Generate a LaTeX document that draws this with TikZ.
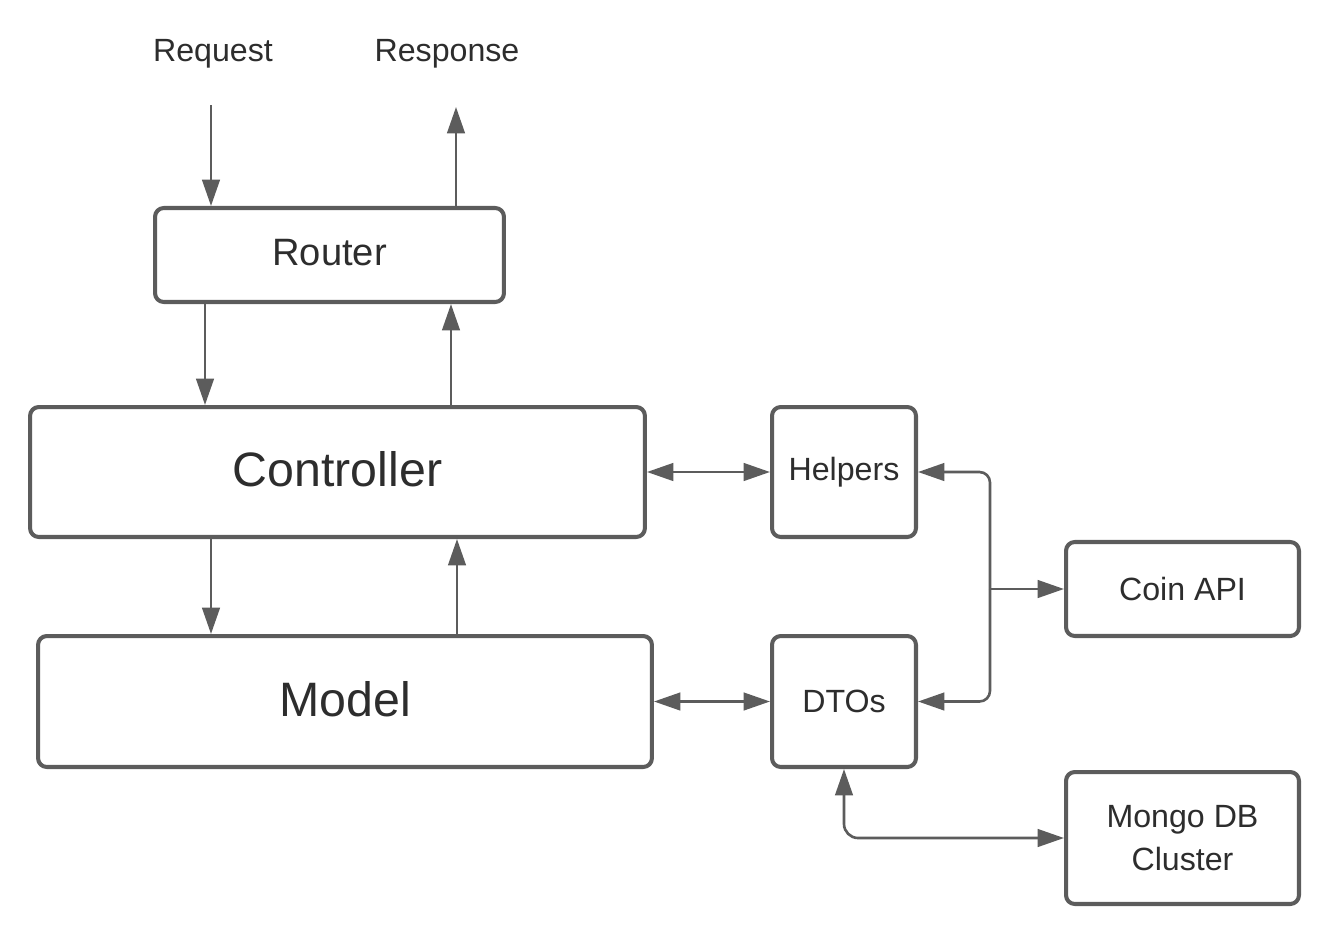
\documentclass[tikz,border=0pt]{standalone}
\usepackage{fontspec}
\setmainfont{Liberation Sans}
\usepackage{xcolor}
\definecolor{lngray}{RGB}{92,92,92}
\definecolor{txgray}{RGB}{45,45,45}
\usetikzlibrary{arrows.meta,positioning}

\begin{document}
\begin{tikzpicture}[x=0.02cm,y=-0.02cm,
    every node/.style={text=txgray},
    box/.style={draw=lngray,line width=2.3pt,rounded corners=5pt,fill=white,
                inner sep=0pt,align=center},
    small/.style={font=\fontsize{18.3}{24.4}\selectfont},
    arr/.style={-{Triangle[length=15pt,width=10pt]},line width=1.5pt,lngray},
    darr/.style={{Triangle[length=15pt,width=10pt]}-{Triangle[length=15pt,width=10pt]},
                 line width=1.5pt,lngray}]
  \useasboundingbox (0,0) rectangle (1336,924);

  % labels on top
  \node[small] (req)  at (213,54) {Request};
  \node[small] (resp) at (447,54) {Response};

  % main stack
  \node[box,minimum width=6.98cm,minimum height=1.88cm,
        font=\fontsize{21.7}{26}\selectfont] (router) at (329.5,255) {\raisebox{3pt}{Router}};
  \node[box,minimum width=12.3cm,minimum height=2.6cm,
        font=\fontsize{27.5}{33}\selectfont] (ctrl) at (337.5,472) {\raisebox{4pt}{Controller}};
  \node[box,minimum width=12.28cm,minimum height=2.62cm,
        font=\fontsize{27.5}{33}\selectfont] (model) at (345,701.5) {\raisebox{3pt}{Model}};

  % side boxes
  \node[box,small,minimum width=2.88cm,minimum height=2.6cm]  (help)  at (844,472) {Helpers};
  \node[box,small,minimum width=2.88cm,minimum height=2.62cm] (dtos)  at (844,701.5) {DTOs};
  \node[box,small,minimum width=4.66cm,minimum height=1.88cm] (coin)  at (1182.5,589) {Coin API};
  \node[box,small,minimum width=4.66cm,minimum height=2.64cm] (mongo) at (1182.5,838) {Mongo DB\\Cluster};

  % vertical positions of the connectors
  \coordinate (xa) at (211,105);
  \coordinate (xb) at (456,107);
  \coordinate (xc) at (205,0);
  \coordinate (xd) at (451,0);
  \coordinate (xe) at (211,0);
  \coordinate (xf) at (457,0);
  \coordinate (jn) at (990,589);

  \draw[arr] (xa) -- (router.north -| xa);
  \draw[arr] (router.north -| xb) -- (xb);
  \draw[arr] (router.south -| xc) -- (ctrl.north -| xc);
  \draw[arr] (ctrl.north -| xd) -- (router.south -| xd);
  \draw[arr] (ctrl.south -| xe) -- (model.north -| xe);
  \draw[arr] (model.north -| xf) -- (ctrl.south -| xf);

  \draw[darr] (ctrl) -- (help);
  \draw[darr] (model) -- (dtos);

  \draw[arr] (jn) -- (coin);
  \draw[arr,rounded corners=6pt] (jn) |- (help.east);
  \draw[arr,rounded corners=6pt] (jn) |- (dtos.east);
  \draw[darr,rounded corners=8pt] (dtos.south) |- (mongo.west);
\end{tikzpicture}
\end{document}
